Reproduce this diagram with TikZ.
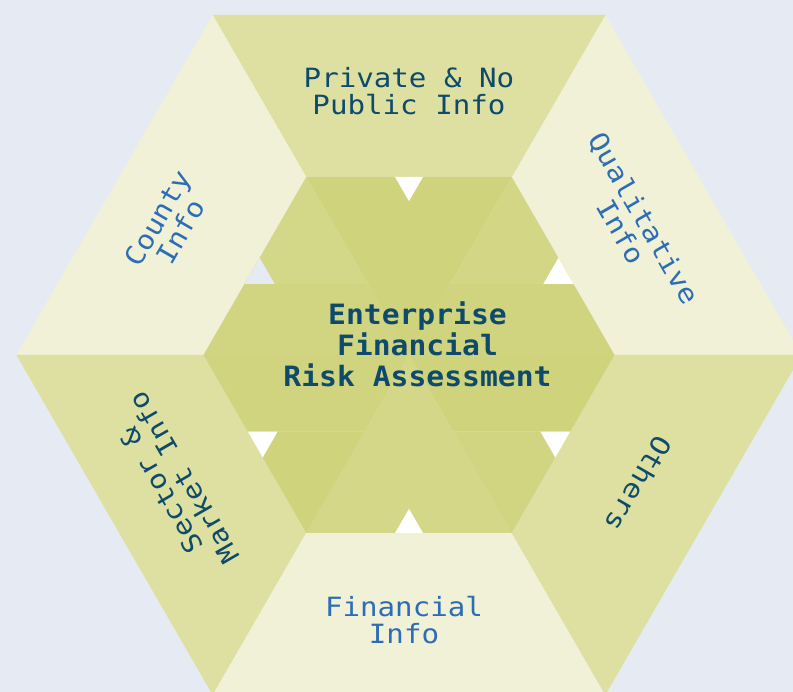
\documentclass[tikz,border=0pt]{standalone}
\usepackage{fontspec}
\usetikzlibrary{calc}
\newfontfamily\infofont[FakeStretch=1.1]{DejaVu Sans Mono}
\newfontfamily\hubfont[FakeStretch=1.06]{DejaVu Sans Mono}
\definecolor{bgblue}{HTML}{E6EBF3}
\definecolor{ringmid}{HTML}{DDE0A0}
\definecolor{ringlight}{HTML}{F0F1D6}
\definecolor{hubdark}{HTML}{CFD37C}
\definecolor{hubmid}{HTML}{D1D582}
\definecolor{hublight}{HTML}{D4D88A}
\definecolor{textnavy}{HTML}{0D4A6B}
\definecolor{textblue}{HTML}{2C6DB6}
\tikzset{
  infolabel/.style={font=\infofont\fontsize{26.5}{26.5}\selectfont, align=center, inner sep=0pt},
  hublabel/.style={font=\hubfont\bfseries\fontsize{28}{31}\selectfont, align=center, inner sep=0pt, text=textnavy},
  notch/.style={fill=white}
}
\def\hexR{392.6}
\def\hubR{205.5}
\begin{document}
\begin{tikzpicture}[x=1pt,y=1pt]
  \useasboundingbox (0,0) rectangle (793,692);
  \fill[bgblue] (0,0) rectangle (793,692);
  \begin{scope}[shift={(409,337)}]
    % outer ring
    \fill[ringlight] (0:\hexR) -- (60:\hexR) -- (60:\hubR) -- (0:\hubR) -- cycle;
    \fill[ringmid] (60:\hexR) -- (120:\hexR) -- (120:\hubR) -- (60:\hubR) -- cycle;
    \fill[ringlight] (120:\hexR) -- (180:\hexR) -- (180:\hubR) -- (120:\hubR) -- cycle;
    \fill[ringmid] (180:\hexR) -- (240:\hexR) -- (240:\hubR) -- (180:\hubR) -- cycle;
    \fill[ringlight] (240:\hexR) -- (300:\hexR) -- (300:\hubR) -- (240:\hubR) -- cycle;
    \fill[ringmid] (300:\hexR) -- (360:\hexR) -- (360:\hubR) -- (300:\hubR) -- cycle;
    % hub
    \coordinate (c) at (0,0);
    \coordinate (ul-a) at ($(120:\hubR)!0.6!(180:\hubR)$);
    \coordinate (ul-b) at ($(120:\hubR)!0.6!(c)$);
    \coordinate (ur-a) at ($(60:\hubR)!0.6!(0:\hubR)$);
    \coordinate (ur-b) at ($(60:\hubR)!0.6!(c)$);
    \coordinate (ll-a) at ($(240:\hubR)!0.57!(180:\hubR)$);
    \coordinate (ll-b) at ($(240:\hubR)!0.57!(c)$);
    \coordinate (lr-a) at ($(300:\hubR)!0.57!(0:\hubR)$);
    \coordinate (lr-b) at ($(300:\hubR)!0.57!(c)$);
    \fill[hubmid] (ul-a) -- (ul-b) -- (c) -- (180:\hubR) -- cycle;
    \fill[hubdark!60!hubmid] (ll-a) -- (ll-b) -- (c) -- (180:\hubR) -- cycle;
    \fill[hubdark!60!hubmid] (ur-a) -- (ur-b) -- (c) -- (0:\hubR) -- cycle;
    \fill[hubdark] (lr-a) -- (lr-b) -- (c) -- (0:\hubR) -- cycle;
    \fill[hubdark] (60:\hubR) -- (120:\hubR) -- (c) -- cycle;
    \fill[hublight!60!hubmid] (240:\hubR) -- (300:\hubR) -- (c) -- cycle;
    \fill[hublight!80!hubmid] (120:\hubR) -- (ul-a) -- (ul-b) -- cycle;
    \fill[hublight!40!hubmid] (60:\hubR) -- (ur-a) -- (ur-b) -- cycle;
    \fill[hubdark] (240:\hubR) -- (ll-a) -- (ll-b) -- cycle;
    \fill[hubmid] (300:\hubR) -- (lr-a) -- (lr-b) -- cycle;
    % notches
    \fill[bgblue] (ul-a) -- ++(30,0) -- ++(-15,26) -- cycle;
    \fill[notch] (ur-a) -- ++(-30,0) -- ++(15,26) -- cycle;
    \fill[notch] (ll-a) -- ++(30,0) -- ++(-15,-26) -- cycle;
    \fill[notch] (lr-a) -- ++(-30,0) -- ++(15,-26) -- cycle;
    \fill[notch] (-14,178) -- (14,178) -- (0,153.8) -- cycle;
    \fill[notch] (-14,-178) -- (14,-178) -- (0,-153.8) -- cycle;
    % labels
    \node[infolabel, text=textnavy] (private) at (0,264) {Private \& No\\Public Info};
    \node[infolabel, text=textblue, rotate=-60] (qualitative) at (224,130) {Qualitative\\Info};
    \node[infolabel, text=textblue, rotate=60] (county) at (-240,130) {County\\Info};
    \node[infolabel, text=textnavy, rotate=120] (sector) at (-236.5,-129) {Sector \&\\Market Info};
    \node[infolabel, text=textnavy, rotate=-120] (others) at (230,-129) {Others};
    \node[infolabel, text=textblue] (financial) at (-5,-265) {Financial\\Info};
    \node[hublabel] (hub) at (8.5,11) {Enterprise\\Financial\\Risk Assessment};
  \end{scope}
\end{tikzpicture}
\end{document}
